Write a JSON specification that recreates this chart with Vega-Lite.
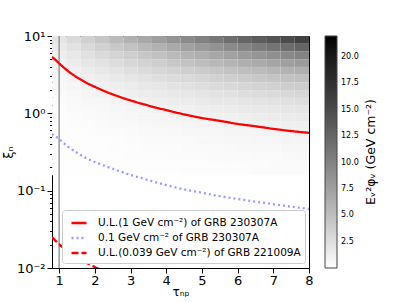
{
  "$schema": "https://vega.github.io/schema/vega-lite/v6.json",
  "width": 257,
  "height": 232,
  "autosize": {"type": "none"},
  "padding": {"left": 52, "top": 36, "right": 106, "bottom": 34},
  "background": "white",
  "config": {
    "font": "DejaVu Sans",
    "view": {"stroke": "black", "strokeWidth": 1},
    "axis": {"domainColor": "black", "tickColor": "black", "labelColor": "black", "titleColor": "black", "labelFont": "DejaVu Sans", "titleFont": "DejaVu Sans", "labelFontSize": 13, "titleFontWeight": "normal", "grid": false, "labelOverlap": false, "labelFlush": false},
    "axisX": {"values": [1,2,3,4,5,6,7,8], "title": "τₙₚ", "titleFontSize": 12, "tickSize": 5, "labelPadding": 1, "titlePadding": -1},
    "axisY": {"values": [0.01,0.02,0.03,0.04,0.05,0.06,0.07,0.08,0.09,0.1,0.2,0.3,0.4,0.5,0.6,0.7,0.8,0.9,1,2,3,4,5,6,7,8,9,10], "labelPadding": 2, "titlePadding": 1, "titleFontSize": 13}
  },
  "datasets": {
    "heat": [
      {"a":0.8,"b":1.2,"c":0.158,"d":0.2,"v":0.04},{"a":0.8,"b":1.2,"c":0.2,"d":0.251,"v":0.05},{"a":0.8,"b":1.2,"c":0.251,"d":0.316,"v":0.06},{"a":0.8,"b":1.2,"c":0.316,"d":0.398,"v":0.08},{"a":0.8,"b":1.2,"c":0.398,"d":0.501,"v":0.10},{"a":0.8,"b":1.2,"c":0.501,"d":0.631,"v":0.13},{"a":0.8,"b":1.2,"c":0.631,"d":0.794,"v":0.16},{"a":0.8,"b":1.2,"c":0.794,"d":1,"v":0.20},{"a":0.8,"b":1.2,"c":1,"d":1.259,"v":0.26},{"a":0.8,"b":1.2,"c":1.259,"d":1.585,"v":0.32},{"a":0.8,"b":1.2,"c":1.585,"d":1.995,"v":0.40},{"a":0.8,"b":1.2,"c":1.995,"d":2.512,"v":0.51},{"a":0.8,"b":1.2,"c":2.512,"d":3.162,"v":0.64},{"a":0.8,"b":1.2,"c":3.162,"d":3.981,"v":0.81},{"a":0.8,"b":1.2,"c":3.981,"d":5.012,"v":1.02},{"a":0.8,"b":1.2,"c":5.012,"d":6.31,"v":1.28},{"a":0.8,"b":1.2,"c":6.31,"d":7.943,"v":1.61},{"a":0.8,"b":1.2,"c":7.943,"d":10,"v":2.03},
      {"a":1.2,"b":1.6,"c":0.158,"d":0.2,"v":0.06},{"a":1.2,"b":1.6,"c":0.2,"d":0.251,"v":0.07},{"a":1.2,"b":1.6,"c":0.251,"d":0.316,"v":0.09},{"a":1.2,"b":1.6,"c":0.316,"d":0.398,"v":0.11},{"a":1.2,"b":1.6,"c":0.398,"d":0.501,"v":0.14},{"a":1.2,"b":1.6,"c":0.501,"d":0.631,"v":0.18},{"a":1.2,"b":1.6,"c":0.631,"d":0.794,"v":0.23},{"a":1.2,"b":1.6,"c":0.794,"d":1,"v":0.28},{"a":1.2,"b":1.6,"c":1,"d":1.259,"v":0.36},{"a":1.2,"b":1.6,"c":1.259,"d":1.585,"v":0.45},{"a":1.2,"b":1.6,"c":1.585,"d":1.995,"v":0.57},{"a":1.2,"b":1.6,"c":1.995,"d":2.512,"v":0.71},{"a":1.2,"b":1.6,"c":2.512,"d":3.162,"v":0.90},{"a":1.2,"b":1.6,"c":3.162,"d":3.981,"v":1.13},{"a":1.2,"b":1.6,"c":3.981,"d":5.012,"v":1.42},{"a":1.2,"b":1.6,"c":5.012,"d":6.31,"v":1.79},{"a":1.2,"b":1.6,"c":6.31,"d":7.943,"v":2.25},{"a":1.2,"b":1.6,"c":7.943,"d":10,"v":2.84},
      {"a":1.6,"b":2.0,"c":0.158,"d":0.2,"v":0.07},{"a":1.6,"b":2.0,"c":0.2,"d":0.251,"v":0.09},{"a":1.6,"b":2.0,"c":0.251,"d":0.316,"v":0.12},{"a":1.6,"b":2.0,"c":0.316,"d":0.398,"v":0.15},{"a":1.6,"b":2.0,"c":0.398,"d":0.501,"v":0.18},{"a":1.6,"b":2.0,"c":0.501,"d":0.631,"v":0.23},{"a":1.6,"b":2.0,"c":0.631,"d":0.794,"v":0.29},{"a":1.6,"b":2.0,"c":0.794,"d":1,"v":0.37},{"a":1.6,"b":2.0,"c":1,"d":1.259,"v":0.46},{"a":1.6,"b":2.0,"c":1.259,"d":1.585,"v":0.58},{"a":1.6,"b":2.0,"c":1.585,"d":1.995,"v":0.73},{"a":1.6,"b":2.0,"c":1.995,"d":2.512,"v":0.92},{"a":1.6,"b":2.0,"c":2.512,"d":3.162,"v":1.15},{"a":1.6,"b":2.0,"c":3.162,"d":3.981,"v":1.45},{"a":1.6,"b":2.0,"c":3.981,"d":5.012,"v":1.83},{"a":1.6,"b":2.0,"c":5.012,"d":6.31,"v":2.30},{"a":1.6,"b":2.0,"c":6.31,"d":7.943,"v":2.90},{"a":1.6,"b":2.0,"c":7.943,"d":10,"v":3.65},
      {"a":2.0,"b":2.4,"c":0.158,"d":0.2,"v":0.09},{"a":2.0,"b":2.4,"c":0.2,"d":0.251,"v":0.11},{"a":2.0,"b":2.4,"c":0.251,"d":0.316,"v":0.14},{"a":2.0,"b":2.4,"c":0.316,"d":0.398,"v":0.18},{"a":2.0,"b":2.4,"c":0.398,"d":0.501,"v":0.22},{"a":2.0,"b":2.4,"c":0.501,"d":0.631,"v":0.28},{"a":2.0,"b":2.4,"c":0.631,"d":0.794,"v":0.35},{"a":2.0,"b":2.4,"c":0.794,"d":1,"v":0.45},{"a":2.0,"b":2.4,"c":1,"d":1.259,"v":0.56},{"a":2.0,"b":2.4,"c":1.259,"d":1.585,"v":0.71},{"a":2.0,"b":2.4,"c":1.585,"d":1.995,"v":0.89},{"a":2.0,"b":2.4,"c":1.995,"d":2.512,"v":1.12},{"a":2.0,"b":2.4,"c":2.512,"d":3.162,"v":1.41},{"a":2.0,"b":2.4,"c":3.162,"d":3.981,"v":1.77},{"a":2.0,"b":2.4,"c":3.981,"d":5.012,"v":2.23},{"a":2.0,"b":2.4,"c":5.012,"d":6.31,"v":2.81},{"a":2.0,"b":2.4,"c":6.31,"d":7.943,"v":3.54},{"a":2.0,"b":2.4,"c":7.943,"d":10,"v":4.46},
      {"a":2.4,"b":2.8,"c":0.158,"d":0.2,"v":0.11},{"a":2.4,"b":2.8,"c":0.2,"d":0.251,"v":0.13},{"a":2.4,"b":2.8,"c":0.251,"d":0.316,"v":0.17},{"a":2.4,"b":2.8,"c":0.316,"d":0.398,"v":0.21},{"a":2.4,"b":2.8,"c":0.398,"d":0.501,"v":0.26},{"a":2.4,"b":2.8,"c":0.501,"d":0.631,"v":0.33},{"a":2.4,"b":2.8,"c":0.631,"d":0.794,"v":0.42},{"a":2.4,"b":2.8,"c":0.794,"d":1,"v":0.53},{"a":2.4,"b":2.8,"c":1,"d":1.259,"v":0.66},{"a":2.4,"b":2.8,"c":1.259,"d":1.585,"v":0.84},{"a":2.4,"b":2.8,"c":1.585,"d":1.995,"v":1.05},{"a":2.4,"b":2.8,"c":1.995,"d":2.512,"v":1.32},{"a":2.4,"b":2.8,"c":2.512,"d":3.162,"v":1.67},{"a":2.4,"b":2.8,"c":3.162,"d":3.981,"v":2.10},{"a":2.4,"b":2.8,"c":3.981,"d":5.012,"v":2.64},{"a":2.4,"b":2.8,"c":5.012,"d":6.31,"v":3.32},{"a":2.4,"b":2.8,"c":6.31,"d":7.943,"v":4.18},{"a":2.4,"b":2.8,"c":7.943,"d":10,"v":5.27},
      {"a":2.8,"b":3.2,"c":0.158,"d":0.2,"v":0.12},{"a":2.8,"b":3.2,"c":0.2,"d":0.251,"v":0.15},{"a":2.8,"b":3.2,"c":0.251,"d":0.316,"v":0.19},{"a":2.8,"b":3.2,"c":0.316,"d":0.398,"v":0.24},{"a":2.8,"b":3.2,"c":0.398,"d":0.501,"v":0.31},{"a":2.8,"b":3.2,"c":0.501,"d":0.631,"v":0.38},{"a":2.8,"b":3.2,"c":0.631,"d":0.794,"v":0.48},{"a":2.8,"b":3.2,"c":0.794,"d":1,"v":0.61},{"a":2.8,"b":3.2,"c":1,"d":1.259,"v":0.77},{"a":2.8,"b":3.2,"c":1.259,"d":1.585,"v":0.96},{"a":2.8,"b":3.2,"c":1.585,"d":1.995,"v":1.21},{"a":2.8,"b":3.2,"c":1.995,"d":2.512,"v":1.53},{"a":2.8,"b":3.2,"c":2.512,"d":3.162,"v":1.92},{"a":2.8,"b":3.2,"c":3.162,"d":3.981,"v":2.42},{"a":2.8,"b":3.2,"c":3.981,"d":5.012,"v":3.05},{"a":2.8,"b":3.2,"c":5.012,"d":6.31,"v":3.83},{"a":2.8,"b":3.2,"c":6.31,"d":7.943,"v":4.83},{"a":2.8,"b":3.2,"c":7.943,"d":10,"v":6.08},
      {"a":3.2,"b":3.6,"c":0.158,"d":0.2,"v":0.14},{"a":3.2,"b":3.6,"c":0.2,"d":0.251,"v":0.17},{"a":3.2,"b":3.6,"c":0.251,"d":0.316,"v":0.22},{"a":3.2,"b":3.6,"c":0.316,"d":0.398,"v":0.27},{"a":3.2,"b":3.6,"c":0.398,"d":0.501,"v":0.35},{"a":3.2,"b":3.6,"c":0.501,"d":0.631,"v":0.43},{"a":3.2,"b":3.6,"c":0.631,"d":0.794,"v":0.55},{"a":3.2,"b":3.6,"c":0.794,"d":1,"v":0.69},{"a":3.2,"b":3.6,"c":1,"d":1.259,"v":0.87},{"a":3.2,"b":3.6,"c":1.259,"d":1.585,"v":1.09},{"a":3.2,"b":3.6,"c":1.585,"d":1.995,"v":1.37},{"a":3.2,"b":3.6,"c":1.995,"d":2.512,"v":1.73},{"a":3.2,"b":3.6,"c":2.512,"d":3.162,"v":2.18},{"a":3.2,"b":3.6,"c":3.162,"d":3.981,"v":2.74},{"a":3.2,"b":3.6,"c":3.981,"d":5.012,"v":3.45},{"a":3.2,"b":3.6,"c":5.012,"d":6.31,"v":4.35},{"a":3.2,"b":3.6,"c":6.31,"d":7.943,"v":5.47},{"a":3.2,"b":3.6,"c":7.943,"d":10,"v":6.89},
      {"a":3.6,"b":4.0,"c":0.158,"d":0.2,"v":0.15},{"a":3.6,"b":4.0,"c":0.2,"d":0.251,"v":0.19},{"a":3.6,"b":4.0,"c":0.251,"d":0.316,"v":0.24},{"a":3.6,"b":4.0,"c":0.316,"d":0.398,"v":0.31},{"a":3.6,"b":4.0,"c":0.398,"d":0.501,"v":0.39},{"a":3.6,"b":4.0,"c":0.501,"d":0.631,"v":0.49},{"a":3.6,"b":4.0,"c":0.631,"d":0.794,"v":0.61},{"a":3.6,"b":4.0,"c":0.794,"d":1,"v":0.77},{"a":3.6,"b":4.0,"c":1,"d":1.259,"v":0.97},{"a":3.6,"b":4.0,"c":1.259,"d":1.585,"v":1.22},{"a":3.6,"b":4.0,"c":1.585,"d":1.995,"v":1.54},{"a":3.6,"b":4.0,"c":1.995,"d":2.512,"v":1.93},{"a":3.6,"b":4.0,"c":2.512,"d":3.162,"v":2.43},{"a":3.6,"b":4.0,"c":3.162,"d":3.981,"v":3.06},{"a":3.6,"b":4.0,"c":3.981,"d":5.012,"v":3.86},{"a":3.6,"b":4.0,"c":5.012,"d":6.31,"v":4.86},{"a":3.6,"b":4.0,"c":6.31,"d":7.943,"v":6.11},{"a":3.6,"b":4.0,"c":7.943,"d":10,"v":7.70},
      {"a":4.0,"b":4.4,"c":0.158,"d":0.2,"v":0.17},{"a":4.0,"b":4.4,"c":0.2,"d":0.251,"v":0.21},{"a":4.0,"b":4.4,"c":0.251,"d":0.316,"v":0.27},{"a":4.0,"b":4.4,"c":0.316,"d":0.398,"v":0.34},{"a":4.0,"b":4.4,"c":0.398,"d":0.501,"v":0.43},{"a":4.0,"b":4.4,"c":0.501,"d":0.631,"v":0.54},{"a":4.0,"b":4.4,"c":0.631,"d":0.794,"v":0.68},{"a":4.0,"b":4.4,"c":0.794,"d":1,"v":0.85},{"a":4.0,"b":4.4,"c":1,"d":1.259,"v":1.07},{"a":4.0,"b":4.4,"c":1.259,"d":1.585,"v":1.35},{"a":4.0,"b":4.4,"c":1.585,"d":1.995,"v":1.70},{"a":4.0,"b":4.4,"c":1.995,"d":2.512,"v":2.14},{"a":4.0,"b":4.4,"c":2.512,"d":3.162,"v":2.69},{"a":4.0,"b":4.4,"c":3.162,"d":3.981,"v":3.39},{"a":4.0,"b":4.4,"c":3.981,"d":5.012,"v":4.26},{"a":4.0,"b":4.4,"c":5.012,"d":6.31,"v":5.37},{"a":4.0,"b":4.4,"c":6.31,"d":7.943,"v":6.76},{"a":4.0,"b":4.4,"c":7.943,"d":10,"v":8.51},
      {"a":4.4,"b":4.8,"c":0.158,"d":0.2,"v":0.19},{"a":4.4,"b":4.8,"c":0.2,"d":0.251,"v":0.23},{"a":4.4,"b":4.8,"c":0.251,"d":0.316,"v":0.30},{"a":4.4,"b":4.8,"c":0.316,"d":0.398,"v":0.37},{"a":4.4,"b":4.8,"c":0.398,"d":0.501,"v":0.47},{"a":4.4,"b":4.8,"c":0.501,"d":0.631,"v":0.59},{"a":4.4,"b":4.8,"c":0.631,"d":0.794,"v":0.74},{"a":4.4,"b":4.8,"c":0.794,"d":1,"v":0.93},{"a":4.4,"b":4.8,"c":1,"d":1.259,"v":1.17},{"a":4.4,"b":4.8,"c":1.259,"d":1.585,"v":1.48},{"a":4.4,"b":4.8,"c":1.585,"d":1.995,"v":1.86},{"a":4.4,"b":4.8,"c":1.995,"d":2.512,"v":2.34},{"a":4.4,"b":4.8,"c":2.512,"d":3.162,"v":2.95},{"a":4.4,"b":4.8,"c":3.162,"d":3.981,"v":3.71},{"a":4.4,"b":4.8,"c":3.981,"d":5.012,"v":4.67},{"a":4.4,"b":4.8,"c":5.012,"d":6.31,"v":5.88},{"a":4.4,"b":4.8,"c":6.31,"d":7.943,"v":7.40},{"a":4.4,"b":4.8,"c":7.943,"d":10,"v":9.32},
      {"a":4.8,"b":5.2,"c":0.158,"d":0.2,"v":0.20},{"a":4.8,"b":5.2,"c":0.2,"d":0.251,"v":0.25},{"a":4.8,"b":5.2,"c":0.251,"d":0.316,"v":0.32},{"a":4.8,"b":5.2,"c":0.316,"d":0.398,"v":0.40},{"a":4.8,"b":5.2,"c":0.398,"d":0.501,"v":0.51},{"a":4.8,"b":5.2,"c":0.501,"d":0.631,"v":0.64},{"a":4.8,"b":5.2,"c":0.631,"d":0.794,"v":0.80},{"a":4.8,"b":5.2,"c":0.794,"d":1,"v":1.01},{"a":4.8,"b":5.2,"c":1,"d":1.259,"v":1.28},{"a":4.8,"b":5.2,"c":1.259,"d":1.585,"v":1.61},{"a":4.8,"b":5.2,"c":1.585,"d":1.995,"v":2.02},{"a":4.8,"b":5.2,"c":1.995,"d":2.512,"v":2.54},{"a":4.8,"b":5.2,"c":2.512,"d":3.162,"v":3.20},{"a":4.8,"b":5.2,"c":3.162,"d":3.981,"v":4.03},{"a":4.8,"b":5.2,"c":3.981,"d":5.012,"v":5.08},{"a":4.8,"b":5.2,"c":5.012,"d":6.31,"v":6.39},{"a":4.8,"b":5.2,"c":6.31,"d":7.943,"v":8.05},{"a":4.8,"b":5.2,"c":7.943,"d":10,"v":10.13},
      {"a":5.2,"b":5.6,"c":0.158,"d":0.2,"v":0.22},{"a":5.2,"b":5.6,"c":0.2,"d":0.251,"v":0.27},{"a":5.2,"b":5.6,"c":0.251,"d":0.316,"v":0.35},{"a":5.2,"b":5.6,"c":0.316,"d":0.398,"v":0.44},{"a":5.2,"b":5.6,"c":0.398,"d":0.501,"v":0.55},{"a":5.2,"b":5.6,"c":0.501,"d":0.631,"v":0.69},{"a":5.2,"b":5.6,"c":0.631,"d":0.794,"v":0.87},{"a":5.2,"b":5.6,"c":0.794,"d":1,"v":1.09},{"a":5.2,"b":5.6,"c":1,"d":1.259,"v":1.38},{"a":5.2,"b":5.6,"c":1.259,"d":1.585,"v":1.73},{"a":5.2,"b":5.6,"c":1.585,"d":1.995,"v":2.18},{"a":5.2,"b":5.6,"c":1.995,"d":2.512,"v":2.75},{"a":5.2,"b":5.6,"c":2.512,"d":3.162,"v":3.46},{"a":5.2,"b":5.6,"c":3.162,"d":3.981,"v":4.35},{"a":5.2,"b":5.6,"c":3.981,"d":5.012,"v":5.48},{"a":5.2,"b":5.6,"c":5.012,"d":6.31,"v":6.90},{"a":5.2,"b":5.6,"c":6.31,"d":7.943,"v":8.69},{"a":5.2,"b":5.6,"c":7.943,"d":10,"v":10.94},
      {"a":5.6,"b":6.0,"c":0.158,"d":0.2,"v":0.23},{"a":5.6,"b":6.0,"c":0.2,"d":0.251,"v":0.30},{"a":5.6,"b":6.0,"c":0.251,"d":0.316,"v":0.37},{"a":5.6,"b":6.0,"c":0.316,"d":0.398,"v":0.47},{"a":5.6,"b":6.0,"c":0.398,"d":0.501,"v":0.59},{"a":5.6,"b":6.0,"c":0.501,"d":0.631,"v":0.74},{"a":5.6,"b":6.0,"c":0.631,"d":0.794,"v":0.93},{"a":5.6,"b":6.0,"c":0.794,"d":1,"v":1.18},{"a":5.6,"b":6.0,"c":1,"d":1.259,"v":1.48},{"a":5.6,"b":6.0,"c":1.259,"d":1.585,"v":1.86},{"a":5.6,"b":6.0,"c":1.585,"d":1.995,"v":2.34},{"a":5.6,"b":6.0,"c":1.995,"d":2.512,"v":2.95},{"a":5.6,"b":6.0,"c":2.512,"d":3.162,"v":3.72},{"a":5.6,"b":6.0,"c":3.162,"d":3.981,"v":4.68},{"a":5.6,"b":6.0,"c":3.981,"d":5.012,"v":5.89},{"a":5.6,"b":6.0,"c":5.012,"d":6.31,"v":7.41},{"a":5.6,"b":6.0,"c":6.31,"d":7.943,"v":9.33},{"a":5.6,"b":6.0,"c":7.943,"d":10,"v":11.75},
      {"a":6.0,"b":6.4,"c":0.158,"d":0.2,"v":0.25},{"a":6.0,"b":6.4,"c":0.2,"d":0.251,"v":0.32},{"a":6.0,"b":6.4,"c":0.251,"d":0.316,"v":0.40},{"a":6.0,"b":6.4,"c":0.316,"d":0.398,"v":0.50},{"a":6.0,"b":6.4,"c":0.398,"d":0.501,"v":0.63},{"a":6.0,"b":6.4,"c":0.501,"d":0.631,"v":0.79},{"a":6.0,"b":6.4,"c":0.631,"d":0.794,"v":1.00},{"a":6.0,"b":6.4,"c":0.794,"d":1,"v":1.26},{"a":6.0,"b":6.4,"c":1,"d":1.259,"v":1.58},{"a":6.0,"b":6.4,"c":1.259,"d":1.585,"v":1.99},{"a":6.0,"b":6.4,"c":1.585,"d":1.995,"v":2.51},{"a":6.0,"b":6.4,"c":1.995,"d":2.512,"v":3.16},{"a":6.0,"b":6.4,"c":2.512,"d":3.162,"v":3.97},{"a":6.0,"b":6.4,"c":3.162,"d":3.981,"v":5.00},{"a":6.0,"b":6.4,"c":3.981,"d":5.012,"v":6.29},{"a":6.0,"b":6.4,"c":5.012,"d":6.31,"v":7.92},{"a":6.0,"b":6.4,"c":6.31,"d":7.943,"v":9.98},{"a":6.0,"b":6.4,"c":7.943,"d":10,"v":12.56},
      {"a":6.4,"b":6.8,"c":0.158,"d":0.2,"v":0.27},{"a":6.4,"b":6.8,"c":0.2,"d":0.251,"v":0.34},{"a":6.4,"b":6.8,"c":0.251,"d":0.316,"v":0.42},{"a":6.4,"b":6.8,"c":0.316,"d":0.398,"v":0.53},{"a":6.4,"b":6.8,"c":0.398,"d":0.501,"v":0.67},{"a":6.4,"b":6.8,"c":0.501,"d":0.631,"v":0.84},{"a":6.4,"b":6.8,"c":0.631,"d":0.794,"v":1.06},{"a":6.4,"b":6.8,"c":0.794,"d":1,"v":1.34},{"a":6.4,"b":6.8,"c":1,"d":1.259,"v":1.68},{"a":6.4,"b":6.8,"c":1.259,"d":1.585,"v":2.12},{"a":6.4,"b":6.8,"c":1.585,"d":1.995,"v":2.67},{"a":6.4,"b":6.8,"c":1.995,"d":2.512,"v":3.36},{"a":6.4,"b":6.8,"c":2.512,"d":3.162,"v":4.23},{"a":6.4,"b":6.8,"c":3.162,"d":3.981,"v":5.32},{"a":6.4,"b":6.8,"c":3.981,"d":5.012,"v":6.70},{"a":6.4,"b":6.8,"c":5.012,"d":6.31,"v":8.44},{"a":6.4,"b":6.8,"c":6.31,"d":7.943,"v":10.62},{"a":6.4,"b":6.8,"c":7.943,"d":10,"v":13.37},
      {"a":6.8,"b":7.2,"c":0.158,"d":0.2,"v":0.28},{"a":6.8,"b":7.2,"c":0.2,"d":0.251,"v":0.36},{"a":6.8,"b":7.2,"c":0.251,"d":0.316,"v":0.45},{"a":6.8,"b":7.2,"c":0.316,"d":0.398,"v":0.56},{"a":6.8,"b":7.2,"c":0.398,"d":0.501,"v":0.71},{"a":6.8,"b":7.2,"c":0.501,"d":0.631,"v":0.90},{"a":6.8,"b":7.2,"c":0.631,"d":0.794,"v":1.13},{"a":6.8,"b":7.2,"c":0.794,"d":1,"v":1.42},{"a":6.8,"b":7.2,"c":1,"d":1.259,"v":1.79},{"a":6.8,"b":7.2,"c":1.259,"d":1.585,"v":2.25},{"a":6.8,"b":7.2,"c":1.585,"d":1.995,"v":2.83},{"a":6.8,"b":7.2,"c":1.995,"d":2.512,"v":3.56},{"a":6.8,"b":7.2,"c":2.512,"d":3.162,"v":4.48},{"a":6.8,"b":7.2,"c":3.162,"d":3.981,"v":5.65},{"a":6.8,"b":7.2,"c":3.981,"d":5.012,"v":7.11},{"a":6.8,"b":7.2,"c":5.012,"d":6.31,"v":8.95},{"a":6.8,"b":7.2,"c":6.31,"d":7.943,"v":11.26},{"a":6.8,"b":7.2,"c":7.943,"d":10,"v":14.18},
      {"a":7.2,"b":7.6,"c":0.158,"d":0.2,"v":0.30},{"a":7.2,"b":7.6,"c":0.2,"d":0.251,"v":0.38},{"a":7.2,"b":7.6,"c":0.251,"d":0.316,"v":0.47},{"a":7.2,"b":7.6,"c":0.316,"d":0.398,"v":0.60},{"a":7.2,"b":7.6,"c":0.398,"d":0.501,"v":0.75},{"a":7.2,"b":7.6,"c":0.501,"d":0.631,"v":0.95},{"a":7.2,"b":7.6,"c":0.631,"d":0.794,"v":1.19},{"a":7.2,"b":7.6,"c":0.794,"d":1,"v":1.50},{"a":7.2,"b":7.6,"c":1,"d":1.259,"v":1.89},{"a":7.2,"b":7.6,"c":1.259,"d":1.585,"v":2.38},{"a":7.2,"b":7.6,"c":1.585,"d":1.995,"v":2.99},{"a":7.2,"b":7.6,"c":1.995,"d":2.512,"v":3.77},{"a":7.2,"b":7.6,"c":2.512,"d":3.162,"v":4.74},{"a":7.2,"b":7.6,"c":3.162,"d":3.981,"v":5.97},{"a":7.2,"b":7.6,"c":3.981,"d":5.012,"v":7.51},{"a":7.2,"b":7.6,"c":5.012,"d":6.31,"v":9.46},{"a":7.2,"b":7.6,"c":6.31,"d":7.943,"v":11.91},{"a":7.2,"b":7.6,"c":7.943,"d":10,"v":14.99},
      {"a":7.6,"b":8.0,"c":0.158,"d":0.2,"v":0.32},{"a":7.6,"b":8.0,"c":0.2,"d":0.251,"v":0.40},{"a":7.6,"b":8.0,"c":0.251,"d":0.316,"v":0.50},{"a":7.6,"b":8.0,"c":0.316,"d":0.398,"v":0.63},{"a":7.6,"b":8.0,"c":0.398,"d":0.501,"v":0.79},{"a":7.6,"b":8.0,"c":0.501,"d":0.631,"v":1.00},{"a":7.6,"b":8.0,"c":0.631,"d":0.794,"v":1.26},{"a":7.6,"b":8.0,"c":0.794,"d":1,"v":1.58},{"a":7.6,"b":8.0,"c":1,"d":1.259,"v":1.99},{"a":7.6,"b":8.0,"c":1.259,"d":1.585,"v":2.51},{"a":7.6,"b":8.0,"c":1.585,"d":1.995,"v":3.15},{"a":7.6,"b":8.0,"c":1.995,"d":2.512,"v":3.97},{"a":7.6,"b":8.0,"c":2.512,"d":3.162,"v":5.00},{"a":7.6,"b":8.0,"c":3.162,"d":3.981,"v":6.29},{"a":7.6,"b":8.0,"c":3.981,"d":5.012,"v":7.92},{"a":7.6,"b":8.0,"c":5.012,"d":6.31,"v":9.97},{"a":7.6,"b":8.0,"c":6.31,"d":7.943,"v":12.55},{"a":7.6,"b":8.0,"c":7.943,"d":10,"v":15.80}
    ],
    "curves": [
      {"s":"U.L.(1 GeV cm⁻²) of GRB 230307A","t":0.8,"xi":5.35},{"s":"U.L.(1 GeV cm⁻²) of GRB 230307A","t":0.9,"xi":4.9},{"s":"U.L.(1 GeV cm⁻²) of GRB 230307A","t":1.0,"xi":4.43},{"s":"U.L.(1 GeV cm⁻²) of GRB 230307A","t":1.25,"xi":3.52},{"s":"U.L.(1 GeV cm⁻²) of GRB 230307A","t":1.5,"xi":2.92},{"s":"U.L.(1 GeV cm⁻²) of GRB 230307A","t":1.75,"xi":2.5},{"s":"U.L.(1 GeV cm⁻²) of GRB 230307A","t":2.0,"xi":2.2},{"s":"U.L.(1 GeV cm⁻²) of GRB 230307A","t":2.5,"xi":1.76},{"s":"U.L.(1 GeV cm⁻²) of GRB 230307A","t":3.0,"xi":1.47},{"s":"U.L.(1 GeV cm⁻²) of GRB 230307A","t":3.5,"xi":1.26},{"s":"U.L.(1 GeV cm⁻²) of GRB 230307A","t":4.0,"xi":1.1},{"s":"U.L.(1 GeV cm⁻²) of GRB 230307A","t":4.5,"xi":0.97},{"s":"U.L.(1 GeV cm⁻²) of GRB 230307A","t":5.0,"xi":0.87},{"s":"U.L.(1 GeV cm⁻²) of GRB 230307A","t":5.5,"xi":0.8},{"s":"U.L.(1 GeV cm⁻²) of GRB 230307A","t":6.0,"xi":0.73},{"s":"U.L.(1 GeV cm⁻²) of GRB 230307A","t":6.5,"xi":0.68},{"s":"U.L.(1 GeV cm⁻²) of GRB 230307A","t":7.0,"xi":0.63},{"s":"U.L.(1 GeV cm⁻²) of GRB 230307A","t":7.5,"xi":0.59},{"s":"U.L.(1 GeV cm⁻²) of GRB 230307A","t":8.0,"xi":0.56},
      {"s":"0.1 GeV cm⁻² of GRB 230307A","t":0.8,"xi":0.54},{"s":"0.1 GeV cm⁻² of GRB 230307A","t":1.0,"xi":0.465},{"s":"0.1 GeV cm⁻² of GRB 230307A","t":1.25,"xi":0.37},{"s":"0.1 GeV cm⁻² of GRB 230307A","t":1.5,"xi":0.31},{"s":"0.1 GeV cm⁻² of GRB 230307A","t":1.75,"xi":0.265},{"s":"0.1 GeV cm⁻² of GRB 230307A","t":2.0,"xi":0.235},{"s":"0.1 GeV cm⁻² of GRB 230307A","t":2.5,"xi":0.192},{"s":"0.1 GeV cm⁻² of GRB 230307A","t":3.0,"xi":0.16},{"s":"0.1 GeV cm⁻² of GRB 230307A","t":3.5,"xi":0.137},{"s":"0.1 GeV cm⁻² of GRB 230307A","t":4.0,"xi":0.118},{"s":"0.1 GeV cm⁻² of GRB 230307A","t":4.5,"xi":0.104},{"s":"0.1 GeV cm⁻² of GRB 230307A","t":5.0,"xi":0.094},{"s":"0.1 GeV cm⁻² of GRB 230307A","t":5.5,"xi":0.085},{"s":"0.1 GeV cm⁻² of GRB 230307A","t":6.0,"xi":0.078},{"s":"0.1 GeV cm⁻² of GRB 230307A","t":6.5,"xi":0.072},{"s":"0.1 GeV cm⁻² of GRB 230307A","t":7.0,"xi":0.067},{"s":"0.1 GeV cm⁻² of GRB 230307A","t":7.5,"xi":0.062},{"s":"0.1 GeV cm⁻² of GRB 230307A","t":8.0,"xi":0.058},
      {"s":"U.L.(0.039 GeV cm⁻²) of GRB 221009A","t":0.8,"xi":0.0252},{"s":"U.L.(0.039 GeV cm⁻²) of GRB 221009A","t":1.0,"xi":0.0202},{"s":"U.L.(0.039 GeV cm⁻²) of GRB 221009A","t":1.25,"xi":0.0165},{"s":"U.L.(0.039 GeV cm⁻²) of GRB 221009A","t":1.5,"xi":0.0139},{"s":"U.L.(0.039 GeV cm⁻²) of GRB 221009A","t":1.75,"xi":0.0118},{"s":"U.L.(0.039 GeV cm⁻²) of GRB 221009A","t":2.0,"xi":0.0103},{"s":"U.L.(0.039 GeV cm⁻²) of GRB 221009A","t":2.25,"xi":0.0091}
    ],
    "vline": [{"t": 1}]
  },
  "layer": [
    {
      "data": {"name": "heat"},
      "mark": {"type": "rect", "clip": true},
      "encoding": {
        "x": {"field": "a", "type": "quantitative", "scale": {"domain": [0.8, 8], "nice": false, "zero": false}, "title": "τₙₚ"},
        "x2": {"field": "b"},
        "y": {"field": "c", "type": "quantitative", "scale": {"type": "log", "domain": [0.01, 10], "nice": false}, "title": "ξₙ", "axis": {
          "labelExpr": "datum.value == 10 ? '10¹' : datum.value == 1 ? '10⁰' : abs(datum.value - 0.1) < 1e-9 ? '10⁻¹' : abs(datum.value - 0.01) < 1e-9 ? '10⁻²' : ''",
          "tickSize": {"condition": {"test": "abs(log(datum.value)/LN10 - round(log(datum.value)/LN10)) < 1e-6", "value": 5}, "value": 2.5}}},
        "y2": {"field": "d"},
        "fill": {"field": "v", "type": "quantitative", "scale": {"domain": [0, 22], "range": ["#ffffff", "#000000"]},
          "legend": {"title": "Eᵥ²φᵥ (GeV cm⁻²)", "orient": "right", "offset": 16, "direction": "vertical", "gradientLength": 232, "gradientThickness": 12, "gradientStrokeColor": "#444", "gradientStrokeWidth": 1, "values": [2.5,5,7.5,10,12.5,15,17.5,20], "format": ".1f", "labelFontSize": 8, "labelColor": "black", "labelOffset": 4, "titleOrient": "right", "titleFontSize": 12.5, "titleFontWeight": "normal", "titleColor": "black", "titleAnchor": "middle", "titlePadding": 19,
            "encode": {"title": {"update": {"angle": {"value": -90}}}}}}
      }
    },
    {
      "data": {"name": "vline"},
      "mark": {"type": "rule", "color": "#999999", "strokeWidth": 1.5},
      "encoding": {"x": {"field": "t", "type": "quantitative", "title": "τₙₚ"}}
    },
    {
      "data": {"name": "curves"},
      "mark": {"type": "line", "strokeWidth": 2.3, "clip": true, "interpolate": "monotone"},
      "encoding": {
        "x": {"field": "t", "type": "quantitative", "title": "τₙₚ"},
        "y": {"field": "xi", "type": "quantitative", "title": "ξₙ", "axis": {
          "labelExpr": "datum.value == 10 ? '10¹' : datum.value == 1 ? '10⁰' : abs(datum.value - 0.1) < 1e-9 ? '10⁻¹' : abs(datum.value - 0.01) < 1e-9 ? '10⁻²' : ''",
          "tickSize": {"condition": {"test": "abs(log(datum.value)/LN10 - round(log(datum.value)/LN10)) < 1e-6", "value": 5}, "value": 2.5}}},
        "stroke": {"field": "s", "type": "nominal", "scale": {"domain": ["U.L.(1 GeV cm⁻²) of GRB 230307A", "0.1 GeV cm⁻² of GRB 230307A", "U.L.(0.039 GeV cm⁻²) of GRB 221009A"], "range": ["#ff0000", "#9a9aff", "#ff0000"]},
          "legend": {"title": null, "orient": "none", "legendX": 10, "legendY": 174, "fillColor": "white", "strokeColor": "#cccccc", "cornerRadius": 3, "padding": 4, "symbolType": "stroke", "symbolSize": 225, "symbolOffset": 4, "symbolStrokeWidth": 2.3, "labelOffset": 10, "labelFontSize": 10.5, "labelColor": "black", "labelLimit": 0, "rowPadding": 0}},
        "strokeDash": {"field": "s", "type": "nominal", "scale": {"domain": ["U.L.(1 GeV cm⁻²) of GRB 230307A", "0.1 GeV cm⁻² of GRB 230307A", "U.L.(0.039 GeV cm⁻²) of GRB 221009A"], "range": [[1, 0], [2, 3], [7, 3]]}, "legend": {"title": null, "orient": "none", "legendX": 10, "legendY": 174}}
      }
    }
  ]
}
